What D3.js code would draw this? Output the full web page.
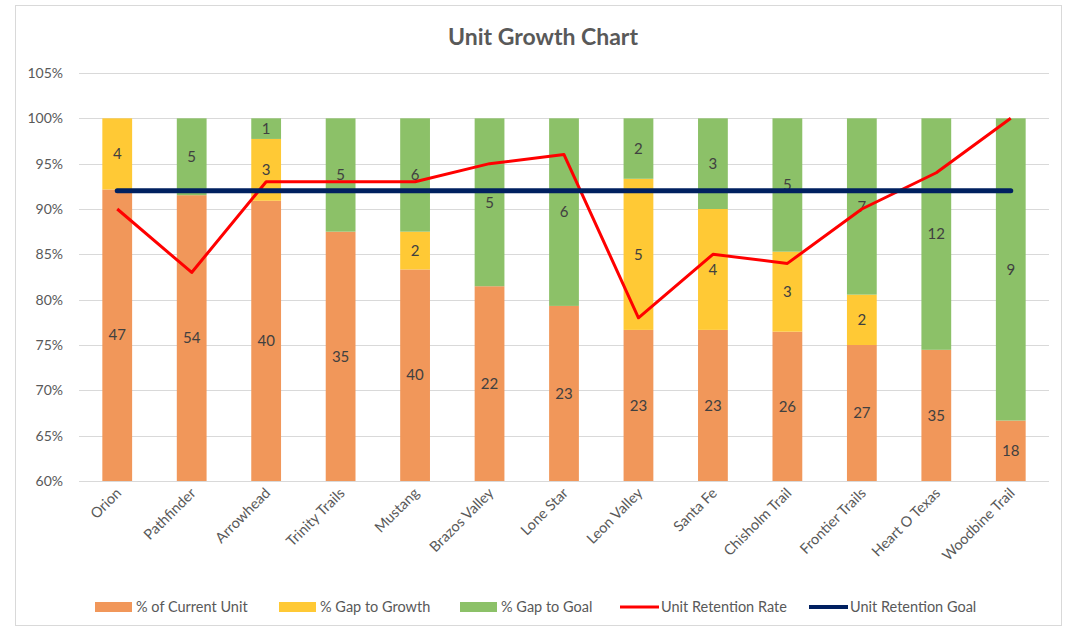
<!DOCTYPE html>
<html><head><meta charset="utf-8">
<script src="https://cdn.jsdelivr.net/npm/d3@7"></script>
<style>body{margin:0;background:#fff;} text{font-family:Lato,"Open Sans",sans-serif;}</style>
</head><body><svg id="c" width="1066" height="629"></svg>
<script>
const categories = ["Orion","Pathfinder","Arrowhead","Trinity Trails","Mustang","Brazos Valley","Lone Star","Leon Valley","Santa Fe","Chisholm Trail","Frontier Trails","Heart O Texas","Woodbine Trail"];
const currentUnit = [47,54,40,35,40,22,23,23,23,26,27,35,18];
const gapToGrowth = [4,0,3,0,2,0,0,5,4,3,2,0,0];
const gapToGoal   = [0,5,1,5,6,5,6,2,3,5,7,12,9];
const retentionRate = [0.90,0.83,0.93,0.93,0.93,0.95,0.96,0.78,0.85,0.84,0.90,0.94,1.00];
const retentionGoal = [0.92,0.92,0.92,0.92,0.92,0.92,0.92,0.92,0.92,0.92,0.92,0.92,0.92];
const yTicks = [0.60,0.65,0.70,0.75,0.80,0.85,0.90,0.95,1.00,1.05];
const seriesNames = ["% of Current Unit","% Gap to Growth","% Gap to Goal","Unit Retention Rate","Unit Retention Goal"];

const colors = {cur:"#F1975A", grow:"#FFC935", goal:"#8CC168", rate:"#FF0000", target:"#002060"};
const svg = d3.select("#c");
svg.append("rect").attr("x",15.5).attr("y",5.5).attr("width",1046).attr("height",620).attr("fill","#fff").attr("stroke","#D9D9D9");

const x = d3.scaleBand().domain(categories).range([80,1048]).paddingInner(0.6).paddingOuter(0.3);
const y = d3.scaleLinear().domain([0.60,1.05]).range([481,73]);

svg.append("text").attr("x",543).attr("y",45).attr("text-anchor","middle")
  .attr("font-size",23).attr("font-weight","bold").attr("fill","#595959").text("Unit Growth Chart");

// gridlines
svg.append("g").selectAll("line").data(yTicks).join("line")
  .attr("x1",79).attr("x2",1049).attr("y1",d=>Math.round(y(d))+0.5).attr("y2",d=>Math.round(y(d))+0.5)
  .attr("stroke","#D9D9D9").attr("stroke-width",1);

// y axis
const yAxis = d3.axisLeft(y).tickValues(yTicks).tickFormat(d3.format(".0%")).tickSize(0).tickPadding(16);
const ya = svg.append("g").attr("transform","translate(79,0)").call(yAxis);
ya.select(".domain").remove();
ya.selectAll("text").attr("font-size",14).attr("fill","#595959").attr("font-family","Lato,'Open Sans',sans-serif");

// stacked data
const rows = categories.map((c,i)=>{
  const tot = currentUnit[i]+gapToGrowth[i]+gapToGoal[i];
  return {c, tot, vals:[currentUnit[i],gapToGrowth[i],gapToGoal[i]]};
});
const segColors = [colors.cur, colors.grow, colors.goal];
const segs = [];
rows.forEach(r=>{
  let acc = 0;
  r.vals.forEach((v,k)=>{
    const y0 = acc/r.tot; acc += v; const y1 = acc/r.tot;
    if(v>0) segs.push({c:r.c, v, y0:Math.max(y0,0.60), y1, k});
  });
});
const bars = svg.append("g");
bars.selectAll("rect").data(segs).join("rect")
  .attr("x",d=>x(d.c)).attr("width",x.bandwidth())
  .attr("y",d=>y(d.y1)).attr("height",d=>y(d.y0)-y(d.y1))
  .attr("fill",d=>segColors[d.k]);

bars.selectAll("text").data(segs).join("text")
  .attr("x",d=>x(d.c)+x.bandwidth()/2).attr("y",d=>(y(d.y0)+y(d.y1))/2)
  .attr("dy","0.35em").attr("text-anchor","middle").attr("font-size",15).attr("fill","#404040")
  .text(d=>d.v);

// x axis line
svg.append("line").attr("x1",79).attr("x2",1049).attr("y1",481.5).attr("y2",481.5).attr("stroke","#D9D9D9");

// x labels
svg.append("g").selectAll("text").data(categories).join("text")
  .attr("transform",d=>`translate(${x(d)+x.bandwidth()/2+5},${494}) rotate(-45)`)
  .attr("text-anchor","end").attr("font-size",14.5).attr("fill","#595959").text(d=>d);

// lines
const cx = d=>x(d)+x.bandwidth()/2;
const line = d3.line().x(d=>cx(d.c)).y(d=>y(d.v));
svg.append("path").datum(categories.map((c,i)=>({c,v:retentionRate[i]})))
  .attr("d",line).attr("fill","none").attr("stroke",colors.rate).attr("stroke-width",3).attr("stroke-linejoin","round");
svg.append("path").datum(categories.map((c,i)=>({c,v:retentionGoal[i]})))
  .attr("d",line).attr("fill","none").attr("stroke",colors.target).attr("stroke-width",5).attr("stroke-linecap","round");

// legend
const leg = [
  {n:seriesNames[0], t:"rect", col:colors.cur, x:95},
  {n:seriesNames[1], t:"rect", col:colors.grow, x:279},
  {n:seriesNames[2], t:"rect", col:colors.goal, x:460},
  {n:seriesNames[3], t:"line", col:colors.rate, x:620},
  {n:seriesNames[4], t:"line", col:colors.target, x:809}
];
const lg = svg.append("g");
leg.forEach(l=>{
  if(l.t==="rect") lg.append("rect").attr("x",l.x).attr("y",602).attr("width",37).attr("height",10).attr("fill",l.col);
  else lg.append("line").attr("x1",l.x).attr("x2",l.x+39).attr("y1",607).attr("y2",607).attr("stroke",l.col).attr("stroke-width",l.col===colors.target?4:3);
  lg.append("text").attr("x",l.x+41).attr("y",607).attr("dy","0.35em").attr("font-size",14.5).attr("fill","#595959").text(l.n);
});
</script></body></html>
